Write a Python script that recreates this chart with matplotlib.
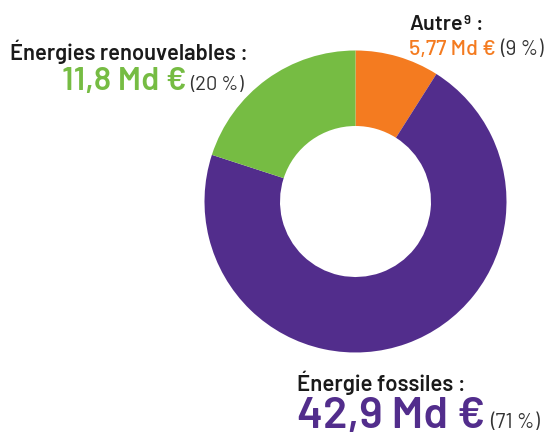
import matplotlib
matplotlib.use("Agg")
import matplotlib.pyplot as plt

# Data
categories = ["Autre", "Énergie fossiles", "Énergies renouvelables"]
amounts = ["5,77 Md €", "42,9 Md €", "11,8 Md €"]
percents = [9, 71, 20]
pct_labels = ["(9 %)", "(71 %)", "(20 %)"]
colors = ["#F47B20", "#522D8C", "#76BC43"]
note = "9"

plt.rcParams['font.family'] = ["Barlow", "DejaVu Sans"]

W, H = 548, 435
fig = plt.figure(figsize=(W / 100, H / 100), dpi=100)
ax = fig.add_axes([0, 0, 1, 1])

cx, cy, R = 355.5, H - 202.5, 151
ax.pie(percents, colors=colors, startangle=90, counterclock=False,
       center=(cx, cy), radius=R, wedgeprops=dict(width=R - 75.5, linewidth=0),
       frame=True)
ax.set_xlim(0, W)
ax.set_ylim(0, H)
ax.set_aspect('equal')
ax.axis('off')

fig.canvas.draw()
renderer = fig.canvas.get_renderer()

def Y(y):
    return H - y

def right_of(t, gap):
    bb = t.get_window_extent(renderer=renderer)
    return bb.x1 + gap  # pixel == data unit here

dark = '#1a1a1a'
# Renouvelables
ax.text(248, Y(60), categories[2] + " :", ha='right', va='baseline', fontsize=15.8,
        fontweight='semibold', color=dark)
t = ax.text(62, Y(90), amounts[2], ha='left', va='baseline', fontsize=23.5,
            fontweight='semibold', color=colors[2])
ax.text(right_of(t, 3), Y(90), pct_labels[2], ha='left', va='baseline', fontsize=14.5,
        fontweight='normal', color='#333333')

# Autre
t = ax.text(409, Y(30), "Autre", ha='left', va='baseline', fontsize=15.5,
            fontweight='semibold', color=dark)
t = ax.text(right_of(t, 1), Y(24), note, ha='left', va='baseline', fontsize=9.5,
            fontweight='semibold', color=dark)
ax.text(right_of(t, 5), Y(30), ":", ha='left', va='baseline', fontsize=15.5,
        fontweight='semibold', color=dark)
t = ax.text(409, Y(55), amounts[0], ha='left', va='baseline', fontsize=15.5,
            fontweight='medium', color=colors[0])
ax.text(right_of(t, 4), Y(55), pct_labels[0], ha='left', va='baseline', fontsize=15,
        fontweight='normal', color='#333333')

# Fossiles
ax.text(297, Y(391), categories[1] + " :", ha='left', va='baseline', fontsize=16,
        fontweight='semibold', color=dark)
t = ax.text(297, Y(428), amounts[1], ha='left', va='baseline', fontsize=32,
            fontweight='semibold', color=colors[1])
ax.text(right_of(t, 5), Y(428), pct_labels[1], ha='left', va='baseline', fontsize=15,
        fontweight='normal', color='#333333')

fig.savefig("out.png", dpi=100)
